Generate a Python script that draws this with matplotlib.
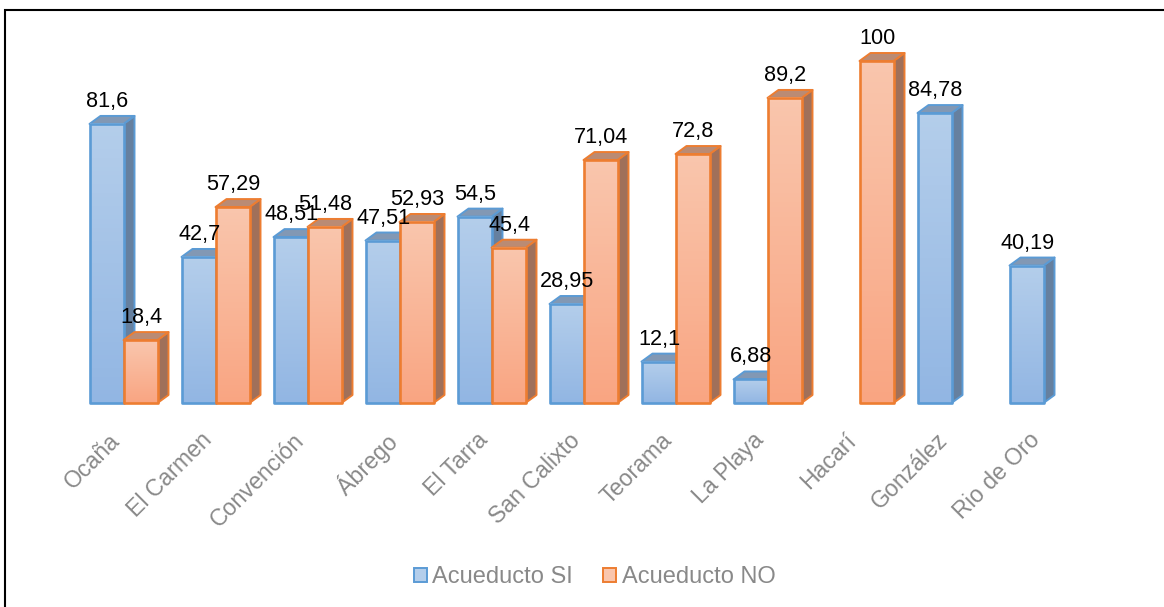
import numpy as np
import matplotlib
matplotlib.use("Agg")
import matplotlib.pyplot as plt
from matplotlib.colors import LinearSegmentedColormap, to_rgb
from matplotlib.lines import Line2D
from matplotlib.patches import Patch, Polygon, Rectangle
from matplotlib.transforms import ScaledTranslation

plt.rcParams['font.family'] = ['Liberation Sans', 'DejaVu Sans']

municipios = ["Ocaña", "El Carmen", "Convención", "Ábrego", "El Tarra", "San Calixto",
              "Teorama", "La Playa", "Hacarí", "González", "Rio de Oro"]
acueducto_si = [81.6, 42.7, 48.51, 47.51, 54.5, 28.95, 12.1, 6.88, None, 84.78, 40.19]
acueducto_no = [18.4, 57.29, 51.48, 52.93, 45.4, 71.04, 72.8, 89.2, 100, None, None]
etiquetas_si = ["81,6", "42,7", "48,51", "47,51", "54,5", "28,95", "12,1", "6,88", "", "84,78", "40,19"]
etiquetas_no = ["18,4", "57,29", "51,48", "52,93", "45,4", "71,04", "72,8", "89,2", "100", "", ""]

W, H = 1164, 607
fig = plt.figure(figsize=(W / 100, H / 100), dpi=100)

# ejes colocados en pixeles: y=0 en 403 y y=100 en 61
ax = fig.add_axes([77.5 / W, 1 - 403 / H, 1012 / W, 342 / H])

BAR_W = 34 / 92
DX = 11 / 92
DY = 8 / 3.42


def barra_3d(x0, valor, arriba, abajo, borde, lado, techo):
    x1 = x0 + BAR_W
    # cara lateral y techo
    ax.add_patch(Polygon([(x1, 0), (x1 + DX, DY), (x1 + DX, valor + DY), (x1, valor)],
                         fc=lado, ec=borde, lw=1.4, joinstyle='round', clip_on=False))
    ax.add_patch(Polygon([(x0, valor), (x0 + DX, valor + DY), (x1 + DX, valor + DY), (x1, valor)],
                         fc=techo, ec=borde, lw=1.4, joinstyle='round', clip_on=False))
    # cara frontal con degradado
    cmap = LinearSegmentedColormap.from_list("g", [to_rgb(arriba), to_rgb(abajo)])
    ax.imshow(np.linspace(0, 1, 64).reshape(-1, 1), cmap=cmap, aspect='auto', origin='upper',
              extent=(x0, x1, 0, valor), clip_on=False, zorder=1)
    ax.add_patch(Rectangle((x0, 0), BAR_W, valor, fc='none', ec=borde, lw=1.9,
                           joinstyle='round', clip_on=False, zorder=1))


for i in range(len(municipios)):
    if acueducto_si[i] is not None:
        barra_3d(i - BAR_W, acueducto_si[i], '#B4CEEB', '#92B6E3', '#5B9BD5', '#66809F', '#8298B4')
    if acueducto_no[i] is not None:
        barra_3d(i, acueducto_no[i], '#FAC6AD', '#F9A582', '#ED7D31', '#A0705A', '#BA8B74')

# etiquetas encima de todo
for i in range(len(municipios)):
    if acueducto_si[i] is not None:
        ax.annotate(etiquetas_si[i], (i - BAR_W / 2, acueducto_si[i]), xytext=(0.6, 16.2),
                    textcoords='offset points', ha='center', va='center',
                    fontsize=15.6, color='black', zorder=5, annotation_clip=False)
    if acueducto_no[i] is not None:
        ax.annotate(etiquetas_no[i], (i + BAR_W / 2, acueducto_no[i]), xytext=(0.6, 16.2),
                    textcoords='offset points', ha='center', va='center',
                    fontsize=15.6, color='black', zorder=5, annotation_clip=False)

ax.set_xlim(-0.5, 10.5)
ax.set_ylim(0, 100)
ax.set_yticks([])
ax.set_xticks(range(len(municipios)))
ax.set_xticklabels(municipios, rotation=45, ha='right', va='top', rotation_mode='anchor',
                   fontsize=16.7, color='#898989')
ax.tick_params(axis='x', length=0, pad=18.5)
desplazamiento = ScaledTranslation(-15 / 100, 0, fig.dpi_scale_trans)
for lab in ax.get_xticklabels():
    lab.set_transform(lab.get_transform() + desplazamiento)
for s in ax.spines.values():
    s.set_visible(False)
ax.patch.set_visible(False)

handles = [Patch(fc='#B4CEEB', ec='#5B9BD5', lw=1.4, label='Acueducto SI'),
           Patch(fc='#FAC6AD', ec='#ED7D31', lw=1.4, label='Acueducto NO')]
fig.legend(handles=handles, loc='center', bbox_to_anchor=(594.5 / W, 1 - 577 / H), ncol=2, frameon=False,
           fontsize=17, labelcolor='#898989', handlelength=0.55, handleheight=0.55,
           handletextpad=0.25, columnspacing=1.25)

# marco exterior: solo lineas izquierda y superior
fig.add_artist(Line2D([5 / W, 5 / W, 1], [0, 1 - 10 / H, 1 - 10 / H], transform=fig.transFigure,
                      color='black', lw=1.5, solid_joinstyle='miter'))

fig.savefig("out.png", dpi=100)
